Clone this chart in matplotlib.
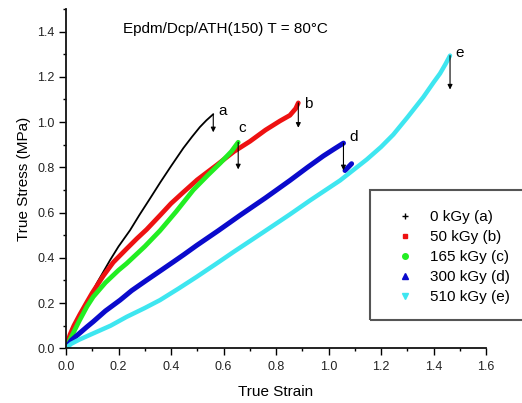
import numpy as np
import matplotlib
matplotlib.use("Agg")
import matplotlib.pyplot as plt
from matplotlib.lines import Line2D
from matplotlib.patches import Rectangle
from matplotlib.ticker import MultipleLocator

plt.rcParams['font.family'] = ['Liberation Sans', 'DejaVu Sans']

# ---- data ----
strain_a = [0, 0.02, 0.05, 0.08, 0.117, 0.168, 0.2, 0.244, 0.28, 0.32, 0.36, 0.40, 0.447,
            0.48, 0.51, 0.535, 0.561]
stress_a = [0, 0.05, 0.125, 0.2, 0.287, 0.39, 0.45, 0.522, 0.59, 0.662, 0.735, 0.805, 0.885,
            0.935, 0.978, 1.008, 1.035]

strain_b = [0, 0.015, 0.03, 0.053, 0.08, 0.10, 0.142, 0.18, 0.231, 0.27, 0.307, 0.36, 0.40,
            0.447, 0.5, 0.574, 0.64, 0.701, 0.76, 0.815, 0.853, 0.875, 0.885]
stress_b = [0, 0.06, 0.10, 0.15, 0.205, 0.245, 0.32, 0.38, 0.44, 0.485, 0.525, 0.59, 0.64,
            0.69, 0.745, 0.81, 0.87, 0.915, 0.965, 1.005, 1.03, 1.06, 1.085]

strain_c = [0, 0.02, 0.05, 0.08, 0.104, 0.15, 0.2, 0.231, 0.3, 0.358, 0.42, 0.485, 0.54,
            0.587, 0.63, 0.656]
stress_c = [0, 0.05, 0.12, 0.185, 0.228, 0.29, 0.345, 0.375, 0.45, 0.52, 0.605, 0.70, 0.765,
            0.818, 0.87, 0.911]

strain_d = [0, 0.02, 0.05, 0.08, 0.104, 0.15, 0.206, 0.25, 0.307, 0.36, 0.409, 0.45, 0.498,
            0.58, 0.663, 0.76, 0.853, 0.92, 0.98, 1.02, 1.057, np.nan, 1.063, 1.088]
stress_d = [0, 0.035, 0.065, 0.095, 0.118, 0.165, 0.213, 0.255, 0.301, 0.343, 0.382, 0.415,
            0.455, 0.52, 0.588, 0.665, 0.742, 0.80, 0.85, 0.88, 0.907, np.nan, 0.786, 0.816]

strain_e = [0, 0.02, 0.05, 0.104, 0.17, 0.231, 0.3, 0.358, 0.43, 0.498, 0.57, 0.637, 0.75,
            0.853, 0.93, 1.044, 1.146, 1.2, 1.247, 1.3, 1.361, 1.4, 1.425, 1.445, 1.463]
stress_e = [0, 0.02, 0.038, 0.066, 0.1, 0.139, 0.178, 0.213, 0.265, 0.316, 0.372, 0.425, 0.512,
            0.592, 0.654, 0.742, 0.835, 0.89, 0.945, 1.02, 1.11, 1.175, 1.215, 1.255, 1.294]

series_labels = ['0 kGy (a)', '50 kGy (b)', '165 kGy (c)', '300 kGy (d)', '510 kGy (e)']
curve_letters = ['a', 'b', 'c', 'd', 'e']
break_x = [0.561, 0.885, 0.656, 1.057, 1.463]
break_y = [1.035, 1.085, 0.911, 0.907, 1.294]
arrow_len = [0.08, 0.11, 0.12, 0.12, 0.15]
letter_x = [0.595, 0.923, 0.672, 1.095, 1.498]
letter_y = [1.05, 1.079, 0.974, 0.932, 1.306]

colors = ['#000000', '#ee1111', '#22ee22', '#0a0acc', '#3ee6f0']
markers = ['+', 's', 'o', '^', 'v']
widths = [1.3, 3.4, 3.4, 3.6, 3.2]

fig = plt.figure(figsize=(5.22, 4.03), dpi=100)
ax = fig.add_axes([66/522, 1-348.3/403, 420/522, (348.3-9)/403])

xs = [strain_a, strain_b, strain_c, strain_d, strain_e]
ys = [stress_a, stress_b, stress_c, stress_d, stress_e]
for x, y, c, w in zip(xs, ys, colors, widths):
    ax.plot(x, y, color=c, lw=w, solid_capstyle='round', solid_joinstyle='round')

for bx, by, L, lx, ly, t in zip(break_x, break_y, arrow_len, letter_x, letter_y, curve_letters):
    ax.annotate('', xy=(bx, by - L), xytext=(bx, by),
                arrowprops=dict(arrowstyle='-|>', color='black', lw=0.8,
                                mutation_scale=7, shrinkA=0, shrinkB=0))
    ax.text(lx, ly, t, fontsize=11, ha='center', va='center')

ax.text(0.217, 1.41, 'Epdm/Dcp/ATH(150) T = 80°C', fontsize=11, ha='left', va='center')

ax.set_xlim(0, 1.6)
ax.set_ylim(0, 1.5)
ax.xaxis.set_minor_locator(MultipleLocator(0.1))
ax.yaxis.set_minor_locator(MultipleLocator(0.1))
ax.set_xticks([i * 0.2 for i in range(9)])
ax.set_yticks([i * 0.2 for i in range(8)])
ax.xaxis.set_major_formatter(plt.FuncFormatter(lambda v, p: f'{v:.1f}'))
ax.yaxis.set_major_formatter(plt.FuncFormatter(lambda v, p: f'{v:.1f}'))
for s in ['top', 'right']:
    ax.spines[s].set_visible(False)
for s in ['left', 'bottom']:
    ax.spines[s].set_linewidth(1.3)
    ax.spines[s].set_color('#111111')
ax.tick_params(which='major', direction='out', length=5, width=1, labelsize=9, pad=3,
               labelcolor='#222222')
ax.tick_params(which='minor', direction='out', length=2.5, width=1)
ax.tick_params(axis='x', which='major', pad=4)

ax.set_xlabel('True Strain', fontsize=11, labelpad=9)
ax.set_ylabel('True Stress (MPa)', fontsize=11, labelpad=5)

handles = [Line2D([], [], ls='none', marker=m, color=c, markersize=ms)
           for m, c, ms in zip(markers, colors, [5, 3.5, 4, 4, 4.5])]
leg = fig.legend(handles, series_labels, loc='center left', bbox_to_anchor=(0.7615, 0.362),
                 frameon=False, fontsize=11, handlelength=1.0, handletextpad=1.1,
                 borderpad=0, borderaxespad=0, labelspacing=0.4)

fig.patches.append(Rectangle((370/522, 1-320/403), 0.4, 130/403, transform=fig.transFigure,
                             fill=False, ec='#555555', lw=1.5))

fig.savefig('out.png', dpi=100)
